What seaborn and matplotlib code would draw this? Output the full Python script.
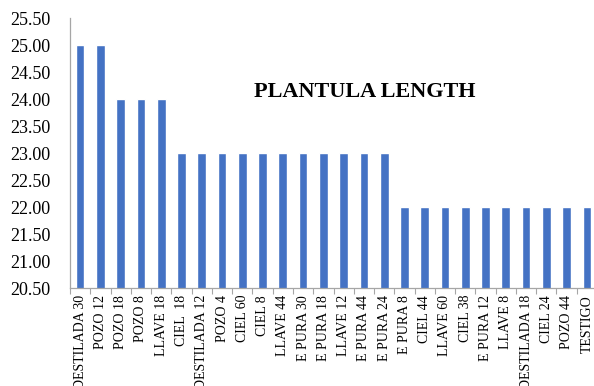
import matplotlib
matplotlib.use("Agg")
import matplotlib.pyplot as plt
from matplotlib.ticker import FixedLocator, FormatStrFormatter
import seaborn as sns
import pandas as pd
import numpy as np

treatments = ["DESTILADA 30", "POZO 12", "POZO 18", "POZO 8", "LLAVE 18",
              "CIEL  18", "DESTILADA 12", "POZO 4", "CIEL 60", "CIEL 8",
              "LLAVE 44", "E PURA 30", "E PURA 18", "LLAVE 12", "E PURA 44",
              "E PURA 24", "E PURA 8", "CIEL 44", "LLAVE 60", "CIEL 38",
              "E PURA 12", "LLAVE 8", "DESTILADA 18", "CIEL 24", "POZO 44",
              "TESTIGO"]
lengths = [25, 25, 24, 24, 24,
           23, 23, 23, 23, 23,
           23, 23, 23, 23, 23,
           23, 22, 22, 22, 22,
           22, 22, 22, 22, 22,
           22]
y_ticks = [20.5, 21.0, 21.5, 22.0, 22.5, 23.0, 23.5, 24.0, 24.5, 25.0, 25.5]

df = pd.DataFrame({"treatment": treatments, "length": lengths})

sns.set_theme(style="white")
plt.rcParams["font.family"] = ["Liberation Serif", "DejaVu Serif"]
plt.rcParams["text.color"] = "black"
plt.rcParams["xtick.color"] = "black"
plt.rcParams["ytick.color"] = "black"

fig = plt.figure(figsize=(5.94, 3.86), dpi=100)
ax = fig.add_axes([70 / 594, 1 - 288 / 386, 527 / 594, 270 / 386])

sns.barplot(data=df, x="treatment", y="length", color="#4472C4",
            saturation=1, width=0.43, ax=ax)

ax.set_ylim(20.5, 25.5)
ax.set_xlim(-0.5, len(treatments) - 0.5)
ax.set_yticks(y_ticks)
ax.yaxis.set_major_formatter(FormatStrFormatter("%.2f"))
ax.tick_params(axis="y", length=0, labelsize=13, pad=14, labelcolor="black")
ax.set_xticks(range(len(treatments)))
ax.set_xticklabels(treatments, rotation=90, fontsize=10)
ax.tick_params(axis="x", which="major", length=0, pad=5, labelcolor="black")
ax.xaxis.set_minor_locator(FixedLocator(np.arange(-0.5, len(treatments), 1.0)))
ax.tick_params(axis="x", which="minor", length=4, width=0.8,
               color="#A6A6A6", bottom=True)

ax.set_xlabel("")
ax.set_ylabel("")
for side in ["top", "right"]:
    ax.spines[side].set_visible(False)
for side in ["left", "bottom"]:
    ax.spines[side].set_color("#A6A6A6")
    ax.spines[side].set_linewidth(0.9)

ax.text(0.56, 0.727, "PLANTULA LENGTH", transform=ax.transAxes,
        ha="center", va="center", fontsize=16, fontweight="bold",
        color="black")

fig.savefig("out.png", dpi=100)
